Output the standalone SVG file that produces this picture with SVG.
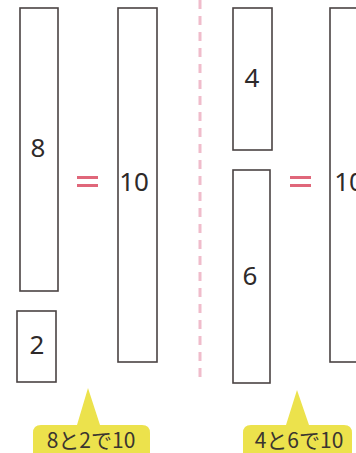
<svg xmlns="http://www.w3.org/2000/svg" width="356" height="453" viewBox="0 0 356 453">
<style>
.bar{fill:#fff;stroke:#4a4343;stroke-width:1.6}
.num{font-family:"Noto Sans","DejaVu Sans",sans-serif;font-size:26px;fill:#2e2a2a;text-anchor:middle}
.eq{fill:#e0677a}
.bub{fill:#ece24c}
.lbl{font-family:"Noto Sans CJK JP","Noto Sans",sans-serif;font-size:21px;fill:#3a3530;text-anchor:middle}
</style>
<rect width="356" height="453" fill="#fff"/>
<g id="divider">
<line x1="200" y1="0" x2="200" y2="378" stroke="#f0bccb" stroke-width="3" stroke-dasharray="9 7"/>
</g>
<g id="bar8"><rect class="bar" x="20" y="8" width="38" height="283"/><text class="num" x="38" y="157">8</text></g>
<g id="bar2"><rect class="bar" x="17" y="311" width="39" height="71"/><text class="num" x="37" y="354">2</text></g>
<g id="eq1"><rect class="eq" x="77" y="176" width="21" height="3"/><rect class="eq" x="77" y="184" width="21" height="3"/></g>
<g id="bar10a"><rect class="bar" x="118" y="8" width="39" height="354"/><text class="num" x="134" y="191">10</text></g>
<g id="bar4"><rect class="bar" x="233" y="8" width="39" height="142"/><text class="num" x="252" y="87">4</text></g>
<g id="bar6"><rect class="bar" x="233" y="170" width="37" height="213"/><text class="num" x="250" y="285">6</text></g>
<g id="eq2"><rect class="eq" x="290" y="176" width="21" height="3"/><rect class="eq" x="290" y="184" width="21" height="3"/></g>
<g id="bar10b"><rect class="bar" x="330" y="8" width="40" height="354"/><text class="num" x="349" y="191">10</text></g>
<g id="callout1">
<path class="bub" d="M88 388 L100 425 L142 425 Q150 425 150 433 L150 460 L33 460 L33 433 Q33 425 41 425 L77 425 Z"/>
<text class="lbl" x="91" y="448">8と2で10</text>
</g>
<g id="callout2">
<path class="bub" d="M297 390 L309 425 L344 425 Q352 425 352 433 L352 460 L243 460 L243 433 Q243 425 251 425 L286 425 Z"/>
<text class="lbl" x="299" y="448">4と6で10</text>
</g>
</svg>
